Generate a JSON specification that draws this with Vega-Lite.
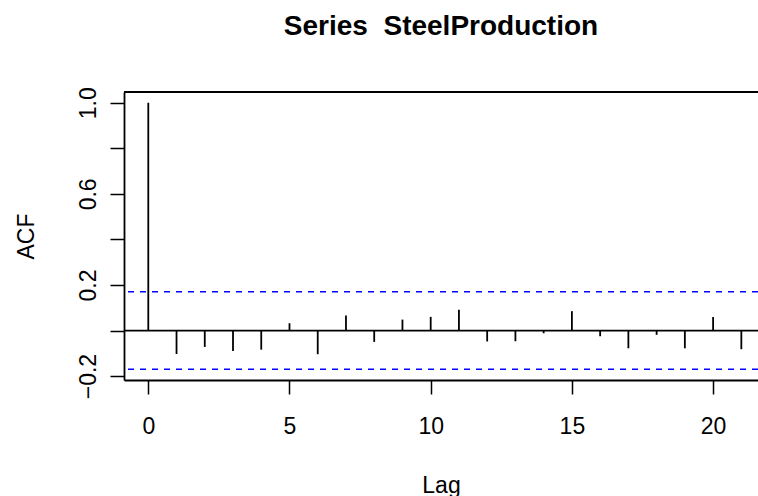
{
  "$schema": "https://vega.github.io/schema/vega-lite/v6.json",
  "width": 634,
  "height": 288,
  "autosize": "none",
  "padding": {"left": 124, "top": 92, "right": 0, "bottom": 116},
  "background": "white",
  "view": {"stroke": null},
  "config": {
    "font": "Liberation Sans",
    "axis": {"grid": false, "labelColor": "black", "titleColor": "black", "domainColor": "black", "tickColor": "black", "labelFont": "Liberation Sans", "titleFont": "Liberation Sans"}
  },
  "title": {
    "text": "Series \u00a0SteelProduction",
    "font": "Liberation Sans",
    "fontSize": 28,
    "fontWeight": "bold",
    "color": "black",
    "anchor": "middle",
    "offset": 46
  },
  "datasets": {
    "acf": [
      {"lag": 0, "acf": 1.0},
      {"lag": 1, "acf": -0.103},
      {"lag": 2, "acf": -0.072},
      {"lag": 3, "acf": -0.090},
      {"lag": 4, "acf": -0.084},
      {"lag": 5, "acf": 0.032},
      {"lag": 6, "acf": -0.104},
      {"lag": 7, "acf": 0.066},
      {"lag": 8, "acf": -0.050},
      {"lag": 9, "acf": 0.048},
      {"lag": 10, "acf": 0.060},
      {"lag": 11, "acf": 0.091},
      {"lag": 12, "acf": -0.048},
      {"lag": 13, "acf": -0.047},
      {"lag": 14, "acf": -0.012},
      {"lag": 15, "acf": 0.085},
      {"lag": 16, "acf": -0.025},
      {"lag": 17, "acf": -0.078},
      {"lag": 18, "acf": -0.019},
      {"lag": 19, "acf": -0.078},
      {"lag": 20, "acf": 0.059},
      {"lag": 21, "acf": -0.082}
    ],
    "ci": [{"ci": 0.17}, {"ci": -0.17}],
    "one": [{"k": 1}]
  },
  "layer": [
    {
      "data": {"name": "acf"},
      "mark": {"type": "rule", "color": "black", "strokeWidth": 1.8},
      "encoding": {
        "x": {
          "field": "lag", "type": "quantitative",
          "scale": {"domain": [-0.86, 21.59], "nice": false, "zero": false},
          "axis": {
            "orient": "bottom",
            "values": [0, 5, 10, 15, 20],
            "format": "d",
            "domain": true,
            "tickSize": 14, "tickWidth": 1.5, "domainWidth": 1.8,
            "labelFontSize": 23, "labelPadding": 21,
            "labelFlush": false,
            "title": "Lag", "titleFontSize": 23, "titleFontWeight": "normal",
            "titleBaseline": "alphabetic", "titleY": 112
          }
        },
        "y": {
          "field": "acf", "type": "quantitative",
          "scale": {"domain": [-0.2172, 1.0472], "nice": false, "zero": false},
          "axis": {
            "orient": "left",
            "values": [-0.2, 0, 0.2, 0.4, 0.6, 0.8, 1],
            "labelExpr": "indexof(['−0.2','0.2','0.6','1.0'], format(datum.value, '.1f')) >= 0 ? format(datum.value, '.1f') : ''",
            "domain": true,
            "tickSize": 14, "tickWidth": 1.5, "domainWidth": 1.8,
            "labelFontSize": 23, "labelAngle": -90, "labelAlign": "center", "labelBaseline": "bottom", "labelPadding": 10,
            "labelFlush": false, "labelOverlap": false,
            "title": "ACF", "titleFontSize": 23, "titleFontWeight": "normal",
            "titleAngle": -90, "titleAlign": "center", "titleBaseline": "alphabetic", "titleX": -91, "titleY": 144
          }
        },
        "y2": {"datum": 0}
      }
    },
    {
      "data": {"name": "one"},
      "mark": {"type": "rule", "color": "black", "strokeWidth": 1.8},
      "encoding": {
        "y": {"datum": 0, "type": "quantitative"}
      }
    },
    {
      "data": {"name": "one"},
      "mark": {"type": "rule", "color": "black", "strokeWidth": 1.8},
      "encoding": {
        "y": {"datum": 1.0472, "type": "quantitative"}
      }
    },
    {
      "data": {"name": "ci"},
      "mark": {"type": "rule", "color": "#0000FF", "strokeWidth": 1.6, "strokeDash": [6, 6]},
      "encoding": {
        "y": {"field": "ci", "type": "quantitative"}
      }
    }
  ]
}
